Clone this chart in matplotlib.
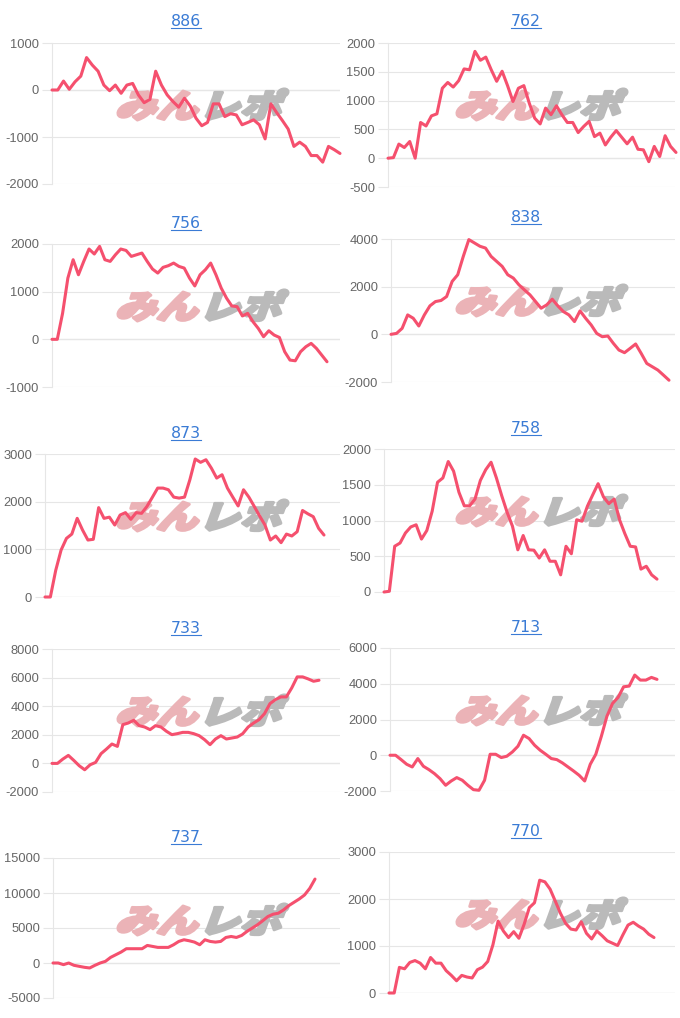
import numpy as np
import matplotlib
matplotlib.use('Agg')
import matplotlib.pyplot as plt
from matplotlib.textpath import TextPath
from matplotlib.patches import PathPatch
from matplotlib.font_manager import FontProperties
from matplotlib.transforms import Affine2D
from matplotlib.lines import Line2D

# ---------------- data ----------------
titles = ['886', '762', '756', '838', '873', '758', '733', '713', '737', '770']

s886 = [0, 0, 190, 15, 175, 295, 690, 530, 400, 105, -15, 105, -70, 105, 140, -105, -270, -200, 400, 105,
        -105, -245, -365, -175, -340, -600, -760, -690, -295, -295, -565, -505, -530, -740, -690, -635, -740,
        -1040, -295, -480, -650, -830, -1200, -1110, -1200, -1395, -1395, -1535, -1200, -1270, -1350]
s762 = [0, 10, 245, 185, 290, 0, 620, 560, 735, 770, 1215, 1315, 1235, 1345, 1550, 1535, 1855, 1700, 1755, 1535,
        1335, 1510, 1260, 985, 1215, 1260, 955, 695, 595, 870, 755, 910, 755, 620, 620, 445, 550, 640, 375, 435,
        230, 365, 480, 365, 250, 365, 155, 145, -60, 205, 30, 390, 205, 100]
s756 = [0, 0, 545, 1285, 1670, 1355, 1635, 1895, 1790, 1950, 1670, 1635, 1775, 1895, 1865, 1740, 1775, 1810, 1635,
        1475, 1390, 1510, 1545, 1600, 1530, 1495, 1285, 1120, 1355, 1460, 1600, 1355, 1075, 865, 700, 685, 490, 545,
        370, 230, 55, 180, 90, 40, -260, -435, -450, -260, -155, -85, -190, -330, -470]
s838 = [0, 40, 250, 815, 675, 350, 815, 1195, 1375, 1420, 1585, 2220, 2500, 3270, 3975, 3835, 3695, 3620, 3270,
        3060, 2850, 2500, 2360, 2080, 1865, 1655, 1375, 1095, 1235, 1475, 1195, 955, 815, 535, 985, 675, 395, 40,
        -100, -70, -380, -660, -770, -590, -405, -800, -1220, -1360, -1500, -1710, -1925]
s873 = [0, 0, 560, 985, 1230, 1320, 1650, 1405, 1195, 1210, 1875, 1650, 1675, 1510, 1720, 1770, 1630, 1770, 1755,
        1900, 2090, 2285, 2285, 2250, 2095, 2075, 2095, 2460, 2895, 2825, 2880, 2705, 2495, 2565, 2285, 2095, 1910,
        2250, 2095, 1900, 1700, 1510, 1195, 1280, 1140, 1320, 1280, 1370, 1815, 1745, 1685, 1440, 1300]
s758 = [0, 10, 640, 685, 825, 910, 940, 740, 860, 1130, 1535, 1595, 1825, 1690, 1395, 1205, 1205, 1300, 1560, 1710,
        1815, 1595, 1345, 1115, 920, 590, 790, 590, 585, 475, 590, 430, 430, 240, 640, 535, 1010, 990, 1200, 1360,
        1515, 1330, 1235, 1300, 1010, 815, 640, 630, 320, 360, 240, 180]
s733 = [0, 0, 305, 560, 210, -165, -445, -95, 70, 680, 1005, 1355, 1190, 2710, 2825, 3015, 2640, 2545, 2360, 2640,
        2545, 2245, 2010, 2080, 2170, 2170, 2080, 1940, 1660, 1310, 1705, 1940, 1705, 1775, 1845, 2080, 2545, 2825,
        3060, 3480, 4180, 4460, 4650, 4650, 5280, 6050, 6050, 5910, 5745, 5815]
s713 = [0, 0, -245, -505, -655, -185, -615, -805, -1030, -1310, -1680, -1440, -1250, -1400, -1680, -1925, -1960,
        -1400, 55, 55, -130, -55, 185, 505, 1120, 935, 560, 280, 55, -185, -245, -430, -655, -880, -1120, -1440,
        -505, 55, 1065, 2185, 2895, 3235, 3830, 3870, 4485, 4205, 4205, 4355, 4245]
s737 = [0, 0, -235, 0, -330, -475, -615, -710, -330, 0, 235, 805, 1185, 1565, 2040, 2040, 2040, 2040, 2510, 2370,
        2230, 2230, 2230, 2605, 3080, 3320, 3175, 2985, 2605, 3320, 3080, 2985, 3080, 3650, 3790, 3650, 3935, 4500,
        4975, 5450, 6020, 6635, 6970, 7110, 7585, 8200, 8675, 9150, 9715, 10665, 11990]
s770 = [0, 0, 545, 515, 650, 690, 635, 515, 755, 635, 635, 475, 375, 260, 375, 340, 320, 495, 550, 670, 1025, 1530,
        1320, 1180, 1305, 1165, 1460, 1815, 1920, 2400, 2365, 2210, 1955, 1695, 1480, 1360, 1340, 1515, 1270, 1150,
        1320, 1220, 1110, 1060, 1010, 1235, 1445, 1505, 1425, 1360, 1250, 1180]

series = [s886, s762, s756, s838, s873, s758, s733, s713, s737, s770]

yt886 = [-2000, -1000, 0, 1000]
yt762 = [-500, 0, 500, 1000, 1500, 2000]
yt756 = [-1000, 0, 1000, 2000]
yt838 = [-2000, 0, 2000, 4000]
yt873 = [0, 1000, 2000, 3000]
yt758 = [0, 500, 1000, 1500, 2000]
yt733 = [-2000, 0, 2000, 4000, 6000, 8000]
yt713 = [-2000, 0, 2000, 4000, 6000]
yt737 = [-5000, 0, 5000, 10000, 15000]
yt770 = [0, 1000, 2000, 3000]
yticks_all = [yt886, yt762, yt756, yt838, yt873, yt758, yt733, yt713, yt737, yt770]

# ---------------- layout (pixels) ----------------
W, H = 680, 1018
# left, right, top, bottom, line end x, title baseline
layout = [
    (52, 340, 43, 184, 340, 26),
    (388, 675, 43, 187, 676, 26),
    (52, 340, 244, 387, 327, 228),
    (391, 675, 239, 382, 669, 222),
    (45, 340, 454, 597, 324, 438),
    (384, 675, 449, 592, 657, 433),
    (52, 340, 649, 792, 319, 633),
    (390, 675, 648, 791, 657, 632),
    (53, 340, 858, 998, 315, 842),
    (389, 675, 852, 993, 654, 836),
]

RED = '#f5506e'
GRID = '#e6e6e6'
ZERO = '#c4c4c4'
BLUE = '#3a7bd5'
PINK = '#ebb3b7'
GRAYW = '#bababa'

plt.rcParams['font.family'] = ['Liberation Sans', 'DejaVu Sans']

fig = plt.figure(figsize=(W / 100, H / 100), dpi=100)
fig.patch.set_facecolor('white')

# watermark paths
fp = FontProperties(family='Noto Sans CJK JP', weight='black')
p1 = TextPath((0, 0), 'みん', size=40, prop=fp)
p2 = TextPath((0, 0), 'レポ', size=40, prop=fp)
b1 = p1.get_extents()
p2 = Affine2D().translate(b1.x1 + 2, 0).transform_path(p2)
sk = Affine2D().skew_deg(16, 0)
p1s = sk.transform_path(p1)
p2s = sk.transform_path(p2)
e1, e2 = p1s.get_extents(), p2s.get_extents()
wx0, wx1 = min(e1.x0, e2.x0), max(e1.x1, e2.x1)
wy0, wy1 = min(e1.y0, e2.y0), max(e1.y1, e2.y1)


def add_watermark(ax, x0, ytop, w, h):
    t = (Affine2D().translate(-wx0, -wy0)
         .scale(w / (wx1 - wx0), h / (wy1 - wy0))
         .translate(x0, H - ytop - h))
    ax.add_patch(PathPatch(p1s, transform=t, facecolor=PINK, edgecolor=PINK, lw=2.2,
                           joinstyle='round', zorder=0.6, clip_on=False))
    ax.add_patch(PathPatch(p2s, transform=t, facecolor=GRAYW, edgecolor=GRAYW, lw=2.2,
                           joinstyle='round', zorder=0.6, clip_on=False))


title_texts = []
for i, (vals, ticks, (L, R, T, B, E, tb)) in enumerate(zip(series, yticks_all, layout)):
    ax = fig.add_axes([L / W, 1 - B / H, (R - L) / W, (B - T) / H])
    ax.set_facecolor('none')
    n = len(vals)
    x = np.arange(n)
    ax.plot(x, vals, color=RED, lw=2.2, solid_joinstyle='round', solid_capstyle='round',
            zorder=3, clip_on=False)
    ax.set_xlim(0, (n - 1) * (R - L) / (E - L))
    ax.set_ylim(ticks[0], ticks[-1])
    ax.set_yticks(ticks)
    ax.set_yticklabels([str(t) for t in ticks])
    ax.set_xticks([])
    for s in ['top', 'right', 'bottom']:
        ax.spines[s].set_visible(False)
    ax.spines['left'].set_color(GRID)
    ax.spines['left'].set_linewidth(0.8)
    ax.set_axisbelow(True)
    ax.grid(axis='y', color=GRID, lw=0.8, zorder=0.3)
    if 0 in ticks:
        ax.axhline(0, color=ZERO, lw=0.8, zorder=0.4)
    ax.tick_params(axis='y', length=7.2, width=0.8, color=GRID, labelcolor='#666666',
                   labelsize=9.3, pad=2)
    col_x = 118 if L < 300 else 457
    add_watermark(ax, col_x, T + 46, 170, 31)
    cx = 186 if L < 300 else 526
    t = fig.text(cx / W, 1 - tb / H, titles[i], ha='center', va='baseline', color=BLUE,
                 fontsize=11.3, family='DejaVu Sans')
    title_texts.append((t, tb))

fig.canvas.draw()
r = fig.canvas.get_renderer()
for t, tb in title_texts:
    bb = t.get_window_extent(r)
    y = 1 - (tb + 2) / H
    fig.add_artist(Line2D([bb.x0 / W, bb.x1 / W], [y, y], transform=fig.transFigure,
                          color=BLUE, lw=0.8))

fig.savefig('out.png', dpi=100, facecolor='white')
